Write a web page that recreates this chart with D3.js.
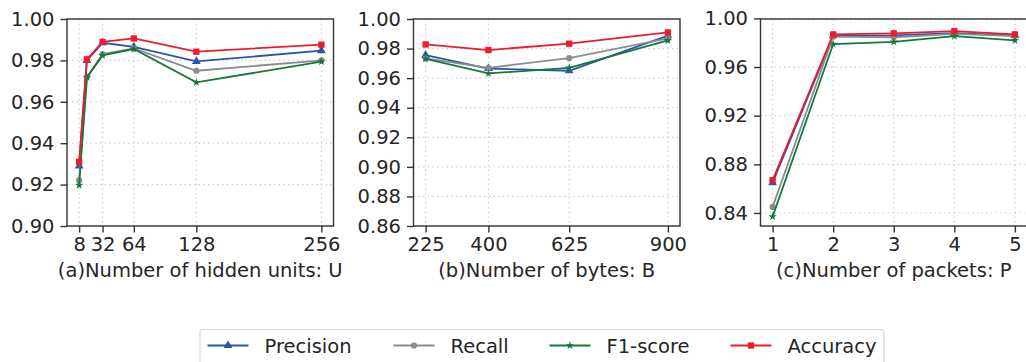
<!DOCTYPE html>
<html>
<head>
<meta charset="utf-8">
<script src="https://cdn.jsdelivr.net/npm/d3@7"></script>
<style>
  body { margin: 0; background: #fff; }
  svg { display: block; font-family: "DejaVu Sans", sans-serif; }
</style>
</head>
<body>
<div id="chart"></div>
<script>
// data
const seriesNames = ["Precision", "Recall", "F1-score", "Accuracy"];

// (a) hidden units U
const unitsX = [8, 16, 32, 64, 128, 256];
const unitsTicks = [8, 32, 64, 128, 256];
const unitsPrecision = [0.929, 0.980, 0.9885, 0.9865, 0.9795, 0.9847];
const unitsRecall = [0.922, 0.972, 0.983, 0.9858, 0.975, 0.980];
const unitsF1 = [0.9197, 0.9718, 0.9824, 0.9855, 0.9694, 0.9794];
const unitsAccuracy = [0.931, 0.9805, 0.9889, 0.9906, 0.9842, 0.9876];

// (b) bytes B
const bytesX = [225, 400, 625, 900];
const bytesPrecision = [0.9756, 0.9665, 0.965, 0.9887];
const bytesRecall = [0.9733, 0.967, 0.9735, 0.9869];
const bytesF1 = [0.9731, 0.9632, 0.967, 0.9855];
const bytesAccuracy = [0.9828, 0.979, 0.9833, 0.9909];

// (c) packets P
const packetsX = [1, 2, 3, 4, 5];
const packetsPrecision = [0.865, 0.9858, 0.986, 0.9879, 0.986];
const packetsRecall = [0.845, 0.985, 0.9845, 0.9872, 0.9855];
const packetsF1 = [0.837, 0.9789, 0.9807, 0.9854, 0.9819];
const packetsAccuracy = [0.867, 0.9868, 0.9877, 0.9895, 0.9868];

const colors = ["#2a55ad", "#8c8c8c", "#127a3e", "#ec1c2c"];
const symbols = [d3.symbolTriangle, d3.symbolCircle, d3.symbolStar, d3.symbolSquare];
const symbolSizes = [34, 30, 22, 40];

const width = 1026, height = 362;
const plotTop = 19, plotBottom = 226;
const fontSize = 19.5;
const textColor = "#262626";

const svg = d3.select("#chart").append("svg")
    .attr("width", width)
    .attr("height", height);

const panels = [
    {
        left: 67, xDomain: [-4.4, 268.4], yDomain: [0.90, 1.00],
        xTicks: unitsTicks, yTicks: d3.range(0.90, 1.0001, 0.02),
        x: unitsX, ys: [unitsPrecision, unitsRecall, unitsF1, unitsAccuracy],
        label: "(a)Number of hidden units: U"
    },
    {
        left: 413.5, xDomain: [191.25, 933.75], yDomain: [0.86, 1.00],
        xTicks: bytesX, yTicks: d3.range(0.86, 1.0001, 0.02),
        x: bytesX, ys: [bytesPrecision, bytesRecall, bytesF1, bytesAccuracy],
        label: "(b)Number of bytes: B"
    },
    {
        left: 760.5, xDomain: [0.8, 5.2], yDomain: [0.8293, 0.9995],
        xTicks: packetsX, yTicks: d3.range(0.84, 1.0001, 0.04),
        x: packetsX, ys: [packetsPrecision, packetsRecall, packetsF1, packetsAccuracy],
        label: "(c)Number of packets: P"
    }
];
const panelWidth = 266.5;

panels.forEach(p => {
    const x = d3.scaleLinear().domain(p.xDomain).range([p.left, p.left + panelWidth]);
    const y = d3.scaleLinear().domain(p.yDomain).range([plotBottom, plotTop]);
    const g = svg.append("g");

    // grid
    g.append("g").selectAll("line")
        .data(p.xTicks).enter().append("line")
        .attr("x1", d => x(d)).attr("x2", d => x(d))
        .attr("y1", plotTop).attr("y2", plotBottom)
        .style("stroke", "#cfcfcf").style("stroke-width", 1.2)
        .style("stroke-dasharray", "1.5,3.2");
    g.append("g").selectAll("line")
        .data(p.yTicks).enter().append("line")
        .attr("x1", p.left).attr("x2", p.left + panelWidth)
        .attr("y1", d => y(d)).attr("y2", d => y(d))
        .style("stroke", "#cfcfcf").style("stroke-width", 1.2)
        .style("stroke-dasharray", "1.5,3.2");

    // axes
    const xAxis = d3.axisBottom(x).tickValues(p.xTicks).tickSizeOuter(0)
        .tickSize(6.5).tickPadding(5).tickFormat(d3.format("d"));
    const yAxis = d3.axisLeft(y).tickValues(p.yTicks).tickSizeOuter(0)
        .tickSize(6.5).tickPadding(6).tickFormat(d3.format(".2f"));

    const gx = g.append("g").attr("transform", `translate(0,${plotBottom})`).call(xAxis);
    const gy = g.append("g").attr("transform", `translate(${p.left},0)`).call(yAxis);
    [gx, gy].forEach(a => {
        a.select(".domain").remove();
        a.selectAll(".tick line").style("stroke", "#333").style("stroke-width", 1.4);
        a.selectAll(".tick text").style("font-size", fontSize + "px")
            .style("font-family", "DejaVu Sans").style("fill", textColor);
    });

    g.append("rect")
        .attr("x", p.left).attr("y", plotTop)
        .attr("width", panelWidth).attr("height", plotBottom - plotTop)
        .style("fill", "none").style("stroke", "#333").style("stroke-width", 1.4);

    g.append("text")
        .attr("x", p.left + panelWidth / 2).attr("y", 277)
        .style("text-anchor", "middle")
        .style("font-size", fontSize + "px")
        .style("fill", textColor)
        .text(p.label);

    // series
    p.ys.forEach((vals, i) => {
        const pts = vals.map((v, k) => [p.x[k], v]);
        const line = d3.line().x(d => x(d[0])).y(d => y(d[1]));
        g.append("path")
            .datum(pts)
            .attr("d", line)
            .style("fill", "none")
            .style("stroke", colors[i])
            .style("stroke-width", 1.8);
        g.append("g").selectAll("path")
            .data(pts).enter().append("path")
            .attr("transform", d => `translate(${x(d[0])},${y(d[1])})`)
            .attr("d", d3.symbol().type(symbols[i]).size(symbolSizes[i]))
            .style("fill", colors[i]);
    });
});

// legend
const legend = svg.append("g");
legend.append("rect")
    .attr("x", 200).attr("y", 329.5)
    .attr("width", 684).attr("height", 50)
    .attr("rx", 3)
    .style("fill", "#fff").style("stroke", "#d6d6d6").style("stroke-width", 1.2);

const legendLineX = [207.5, 393.5, 549.5, 730.5];
seriesNames.forEach((name, i) => {
    const lx = legendLineX[i], ly = 345.5;
    legend.append("line")
        .attr("x1", lx).attr("x2", lx + 41)
        .attr("y1", ly).attr("y2", ly)
        .style("stroke", colors[i]).style("stroke-width", 1.8);
    legend.append("path")
        .attr("transform", `translate(${lx + 20.5},${ly})`)
        .attr("d", d3.symbol().type(symbols[i]).size(symbolSizes[i]))
        .style("fill", colors[i]);
    legend.append("text")
        .attr("x", lx + 57).attr("y", ly)
        .attr("dy", "0.36em")
        .style("font-size", fontSize + "px")
        .style("fill", textColor)
        .text(name);
});
</script>
</body>
</html>
